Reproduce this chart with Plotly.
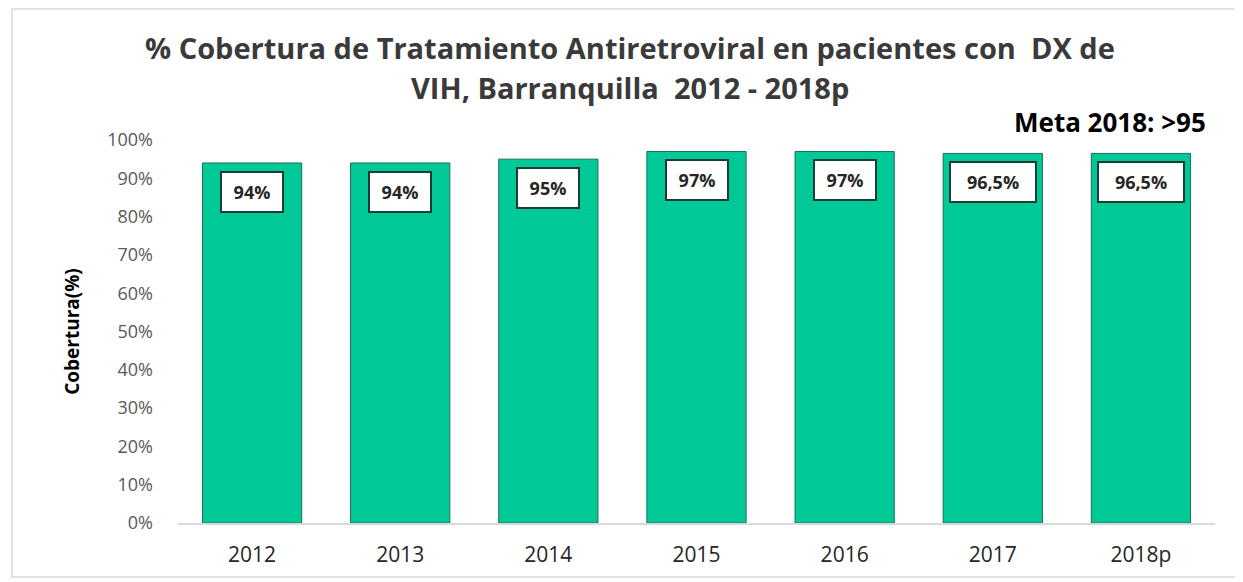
import plotly.graph_objects as go

years = ["2012", "2013", "2014", "2015", "2016", "2017", "2018p"]
coverage = [94, 94, 95, 97, 97, 96.5, 96.5]
labels = ["94%", "94%", "95%", "97%", "97%", "96,5%", "96,5%"]
tick_vals = [0, 10, 20, 30, 40, 50, 60, 70, 80, 90, 100]
tick_text = ["0%", "10%", "20%", "30%", "40%", "50%", "60%", "70%", "80%", "90%", "100%"]

# page has an 8px body margin; figure sits at (8, 8)
OFF = 8
W, H = 1235, 574
L, R, T, B = 170, 28, 132, 59
pw, ph = W - L - R, H - T - B

def px_x(p):
    return (p - OFF - L) / pw

def px_y(p):
    return (H - B - (p - OFF)) / ph

BAR = "#00C997"
FONT = "Open Sans, Liberation Sans, DejaVu Sans, sans-serif"

pos = list(range(len(years)))

fig = go.Figure()
fig.add_trace(go.Bar(
    x=pos, y=coverage, width=0.67,
    marker=dict(color=BAR, line=dict(color="#1d6f5a", width=1)),
    hovertext=years, hoverinfo="text+y",
))

annotations = []
for i, v, lab in zip(pos, coverage, labels):
    annotations.append(dict(
        x=i, y=v, xref="x", yref="y", text="<b>" + lab + "</b>",
        showarrow=False, yanchor="top", yshift=-8,
        width=12 * len(lab) + 10, align="center",
        font=dict(family=FONT, size=18, color="#262626"),
        bgcolor="white", bordercolor="#1a3d33", borderwidth=2, borderpad=7,
    ))

annotations.append(dict(
    x=px_x(630), y=px_y(47), xref="paper", yref="paper",
    text="<b>% Cobertura de Tratamiento Antiretroviral en pacientes con  DX de</b>",
    showarrow=False, xanchor="center", yanchor="middle",
    font=dict(family=FONT, size=29, color="#3a3a3a"),
))
annotations.append(dict(
    x=px_x(630), y=px_y(87), xref="paper", yref="paper",
    text="<b>VIH, Barranquilla  2012 - 2018p</b>",
    showarrow=False, xanchor="center", yanchor="middle",
    font=dict(family=FONT, size=29, color="#3a3a3a"),
))
annotations.append(dict(
    x=px_x(1208), y=px_y(122), xref="paper", yref="paper",
    text="<b>Meta 2018: >95</b>",
    showarrow=False, xanchor="right", yanchor="middle",
    font=dict(family=FONT, size=26, color="black"),
))

shapes = [dict(
    type="rect", xref="paper", yref="paper",
    x0=px_x(12), x1=px_x(1250), y0=px_y(577), y1=px_y(9),
    line=dict(color="#d9d9d9", width=1.5), fillcolor="rgba(0,0,0,0)", layer="below",
)]

fig.update_layout(
    width=W, height=H,
    margin=dict(l=L, r=R, t=T, b=B, autoexpand=False),
    paper_bgcolor="white", plot_bgcolor="white",
    showlegend=False,
    annotations=annotations, shapes=shapes,
    xaxis=dict(
        range=[-0.5, len(years) - 0.5], tickvals=pos, ticktext=years,
        showgrid=False, zeroline=False, showline=True, linecolor="#d9d9d9", linewidth=1.5,
        tickfont=dict(family=FONT, size=21, color="#262626"), ticks="",
        ticklabelstandoff=12,
    ),
    yaxis=dict(
        range=[0, 100], tickvals=tick_vals, ticktext=tick_text,
        showgrid=False, zeroline=False, showline=False, ticks="",
        tickfont=dict(family=FONT, size=18, color="#595959"),
        ticklabelstandoff=24,
        title=dict(text="<b>Cobertura(%)</b>", standoff=22,
                   font=dict(family=FONT, size=19, color="black")),
    ),
)

fig.write_html("out.html")
